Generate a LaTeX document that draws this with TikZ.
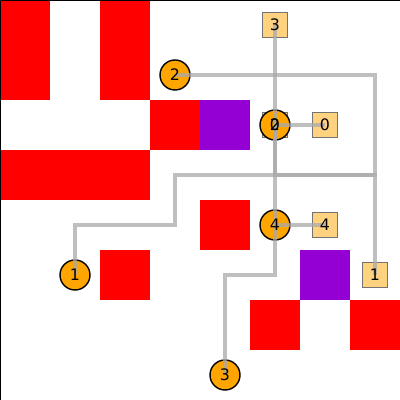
\documentclass[tikz,border=0pt]{standalone}
\usepackage{fontspec}
\setmainfont{DejaVu Sans}
\usepackage{xcolor}
\definecolor{wallred}{RGB}{255,0,0}
\definecolor{darkviolet}{RGB}{148,0,211}
\definecolor{agentorange}{RGB}{255,165,0}
\definecolor{goalorange}{RGB}{255,210,127}
\definecolor{routegray}{RGB}{170,170,170}

\begin{document}
\begin{tikzpicture}[
  agent/.style={circle,draw=black,fill=agentorange,minimum size=0.6cm,inner sep=0pt,line width=0.8pt},
  goal/.style={rectangle,draw=black!55,fill=goalorange,minimum size=0.5cm,inner sep=0pt,line width=0.7pt},
  route/.style={routegray,opacity=0.75,line width=2.2pt},
  lbl/.style={font=\fontsize{9}{10}\selectfont,inner sep=0pt}]
  \useasboundingbox (0,0) rectangle (8,8);
  % Walls
  \fill[wallred](0,6) rectangle (1,8);
  \fill[wallred](2,6) rectangle (3,8);
  \fill[wallred](3,5) rectangle (4,6);
  \fill[darkviolet](4,5) rectangle (5,6);
  \fill[wallred](0,4) rectangle (3,5);
  \fill[wallred](4,3) rectangle (5,4);
  \fill[wallred](2,2) rectangle (3,3);
  \fill[darkviolet](6,2) rectangle (7,3);
  \fill[wallred](5,1) rectangle (6,2);
  \fill[wallred](7,1) rectangle (8,2);
  \draw[black,line width=0.4pt](0,0) rectangle (8,8);
  % Goals
  \node[goal] (g0) at (6.5,5.5) {};
  \node[goal] (g1) at (7.5,2.5) {};
  \node[goal] (g2) at (5.5,5.5) {};
  \node[goal] (g3) at (5.5,7.5) {};
  \node[goal] (g4) at (6.5,3.5) {};
  % Agents
  \node[agent] (a0) at (5.5,5.5) {};
  \node[agent] (a1) at (1.5,2.5) {};
  \node[agent] (a2) at (3.5,6.5) {};
  \node[agent] (a3) at (4.5,0.5) {};
  \node[agent] (a4) at (5.5,3.5) {};
  % Routes
  \draw[route](a0.center)--(g0.center);
  \draw[route](a1.center)--++(0,1)--++(2,0)--++(0,1)--++(4,0)--(g1.center);
  \draw[route](a2.center)--++(4,0)--++(0,-2)--++(-2,0)--(g2.center);
  \draw[route](a3.center)--++(0,2)--++(1,0)--(g3.center);
  \draw[route](a4.center)--(g4.center);
  % Labels
  \foreach \n in {0,...,4}{
    \node[lbl] at (g\n) {\n};
    \node[lbl] at (a\n) {\n};
  }
\end{tikzpicture}
\end{document}
